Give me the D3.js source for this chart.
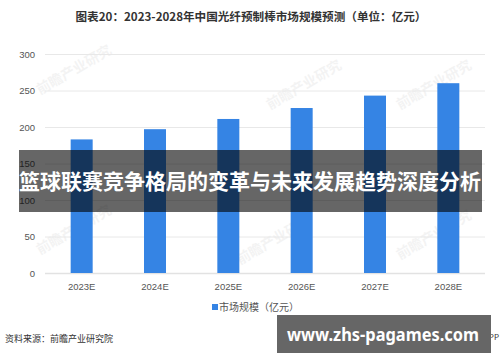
<!DOCTYPE html>
<html>
<head>
<meta charset="utf-8">
<script src="https://cdn.jsdelivr.net/npm/d3@7"></script>
<style>
  body { margin: 0; background: #fff; }
  svg { display: block; font-family: "Noto Sans CJK SC", "Noto Sans", sans-serif; }
</style>
</head>
<body>
<svg width="500" height="362"></svg>
<script>
'use strict';

// data
var years = ['2023E', '2024E', '2025E', '2026E', '2027E', '2028E'];
var marketSize = [183, 197, 211, 226, 243, 260];
var yTicks = [0, 50, 100, 150, 200, 250, 300];

var svg = d3.select('svg');
var plotLeft = 45, plotRight = 485, plotTop = 54, plotBottom = 273;

var x = d3.scaleBand().domain(years).range([plotLeft, plotRight]).paddingInner(0.7).paddingOuter(0.35);
var y = d3.scaleLinear().domain([0, 300]).range([plotBottom, plotTop]);

// title
svg.append('text')
    .attr('x', 251).attr('y', 21)
    .attr('text-anchor', 'middle')
    .attr('font-size', 11.6).attr('font-weight', 'bold').attr('fill', '#333')
    .text('图表20：2023-2028年中国光纤预制棒市场规模预测（单位：亿元）');

// faint watermarks
var marks = [[40, 95], [270, 110], [400, 110], [40, 255], [240, 265], [400, 260]];
svg.selectAll('.wm')
    .data(marks)
    .enter().append('text')
    .attr('class', 'wm')
    .attr('transform', function(d) { return 'translate(' + d[0] + ',' + d[1] + ') rotate(-30)'; })
    .attr('font-size', 14).attr('font-weight', 'bold')
    .attr('fill', '#000').attr('opacity', 0.045)
    .text('前瞻产业研究');

// grid + y axis
var yAxis = svg.append('g')
    .attr('transform', 'translate(' + plotLeft + ',0)')
    .call(d3.axisLeft(y).tickValues(yTicks).tickSize(-(plotRight - plotLeft)).tickPadding(10));
yAxis.select('.domain').remove();
yAxis.selectAll('line')
    .attr('stroke', function(d) { return d === 0 ? '#e2e2e2' : '#e8e8e8'; })
    .attr('stroke-width', function(d) { return d === 0 ? 1.5 : 1; });
yAxis.selectAll('text')
    .attr('font-size', 9.5).attr('fill', '#555')
    .attr('font-family', '"Liberation Sans", Arial, sans-serif');

// bars
svg.selectAll('.bar')
    .data(marketSize)
    .enter().append('rect')
    .attr('class', 'bar')
    .attr('x', function(d, i) { return x(years[i]); })
    .attr('y', function(d) { return y(d); })
    .attr('width', x.bandwidth())
    .attr('height', function(d) { return y(0) - y(d); })
    .attr('fill', '#3584e4');

// x axis
var xAxis = svg.append('g')
    .attr('transform', 'translate(0,' + plotBottom + ')')
    .call(d3.axisBottom(x).tickSize(0).tickPadding(10));
xAxis.select('.domain').remove();
xAxis.selectAll('text')
    .attr('font-size', 9.5).attr('fill', '#555')
    .attr('font-family', '"Liberation Sans", Arial, sans-serif');

// legend
svg.append('rect')
    .attr('x', 212).attr('y', 304).attr('width', 6).attr('height', 6)
    .attr('fill', '#3584e4');
svg.append('text')
    .attr('x', 219).attr('y', 311)
    .attr('font-size', 10).attr('fill', '#555')
    .text('市场规模（亿元）');

// source
svg.append('text')
    .attr('x', 5).attr('y', 342)
    .attr('font-size', 9).attr('fill', '#333')
    .text('资料来源：前瞻产业研究院');
svg.append('text')
    .attr('x', 499).attr('y', 340)
    .attr('text-anchor', 'end')
    .attr('font-size', 8).attr('fill', '#333')
    .text('@前瞻经济学人APP');

// overlay band
svg.append('rect')
    .attr('x', 19).attr('y', 150).attr('width', 463).attr('height', 62)
    .attr('fill', '#000').attr('opacity', 0.6);
svg.append('text')
    .attr('x', 250).attr('y', 189)
    .attr('text-anchor', 'middle')
    .attr('font-size', 21).attr('font-weight', 'bold').attr('fill', '#fff')
    .text('篮球联赛竞争格局的变革与未来发展趋势深度分析');

// url box
svg.append('rect')
    .attr('x', 277).attr('y', 315).attr('width', 214).attr('height', 38)
    .attr('fill', '#666');
svg.append('text')
    .attr('x', 287).attr('y', 341)
    .attr('font-size', 18).attr('font-weight', 'bold').attr('fill', '#fff')
    .attr('font-family', '"Noto Sans", "DejaVu Sans", sans-serif')
    .attr('textLength', 192).attr('lengthAdjust', 'spacingAndGlyphs')
    .text('www.zhs-pagames.com');
</script>
</body>
</html>
